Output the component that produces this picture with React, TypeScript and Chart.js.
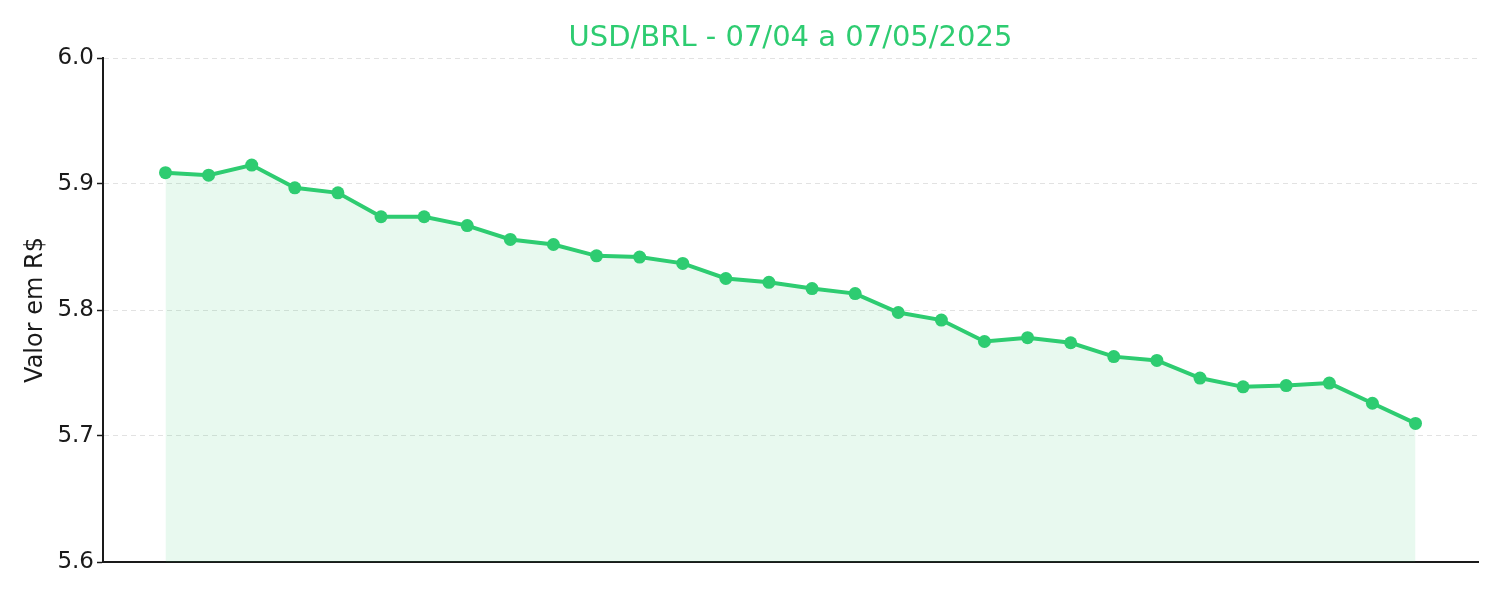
// App.tsx
import React, { useEffect, useRef } from 'react';
import { Chart, registerables } from 'chart.js';

Chart.register(...registerables);

const titulo = 'USD/BRL - 07/04 a 07/05/2025';
const eixoY = 'Valor em R$';

const datas: string[] = [
  '07/04', '08/04', '09/04', '10/04', '11/04', '12/04', '13/04', '14/04', '15/04', '16/04',
  '17/04', '18/04', '19/04', '20/04', '21/04', '22/04', '23/04', '24/04', '25/04', '26/04',
  '27/04', '28/04', '29/04', '30/04', '01/05', '02/05', '03/05', '04/05', '05/05', '06/05',
];

const cotacoes: number[] = [
  5.909, 5.907, 5.915, 5.897, 5.893, 5.874, 5.874, 5.867, 5.856, 5.852,
  5.843, 5.842, 5.837, 5.825, 5.822, 5.817, 5.813, 5.798, 5.792, 5.775,
  5.778, 5.774, 5.763, 5.760, 5.746, 5.739, 5.740, 5.742, 5.726, 5.710,
];

const yTicks: number[] = [5.6, 5.7, 5.8, 5.9, 6.0];

const verde = '#2ecc71';
const fonte = '"DejaVu Sans", sans-serif';

// título centralizado sobre a área do gráfico (como no matplotlib)
const tituloPlugin = {
  id: 'tituloArea',
  afterDraw(chart: Chart) {
    const { ctx, chartArea } = chart;
    ctx.save();
    ctx.font = `29px ${fonte}`;
    ctx.fillStyle = verde;
    ctx.textAlign = 'center';
    ctx.textBaseline = 'middle';
    ctx.fillText(titulo, (chartArea.left + chartArea.right) / 2, 38);
    ctx.restore();
  },
};

const App: React.FC = () => {
  const chartRef = useRef<HTMLCanvasElement | null>(null);

  useEffect(() => {
    document.body.style.margin = '0';
    if (!chartRef.current) return;
    const ctx = chartRef.current.getContext('2d');
    if (!ctx) return;

    const chart = new Chart(ctx, {
      type: 'line',
      data: {
        labels: datas,
        datasets: [{
          label: titulo,
          data: cotacoes.map((v, i) => ({ x: i, y: v })),
          borderColor: verde,
          backgroundColor: 'rgba(46, 204, 113, 0.11)',
          borderWidth: 4,
          pointRadius: 6.5,
          pointBackgroundColor: verde,
          pointBorderWidth: 0,
          fill: 'start',
          tension: 0,
        }],
      },
      options: {
        animation: false,
        responsive: false,
        maintainAspectRatio: false,
        layout: { padding: { top: 58, right: 22, left: 0, bottom: 0 } },
        plugins: {
          legend: { display: false },
          title: { display: false },
          tooltip: { enabled: false },
        },
        scales: {
          x: {
            type: 'linear',
            min: -1.45,
            max: cotacoes.length - 1 + 1.45,
            ticks: { display: false },
            grid: { display: false, drawTicks: false },
            border: { display: true, color: '#1a1a1a', width: 2 },
            afterFit: (scale: any) => { scale.height = 38; },
          },
          y: {
            min: 5.6,
            max: 6.0,
            afterBuildTicks: (scale: any) => {
              scale.ticks = yTicks.map((v) => ({ value: v }));
            },
            ticks: {
              color: '#1a1a1a',
              font: { family: fonte, size: 23 },
              padding: 3,
              callback: (v: any) => Number(v).toFixed(1),
            },
            grid: {
              color: '#e2e2e2',
              lineWidth: 1,
              tickColor: '#1a1a1a',
              tickLength: 6,
              tickWidth: 1.5,
            },
            border: { display: true, color: '#1a1a1a', width: 2, dash: [5, 4] },
            title: {
              display: true,
              text: eixoY,
              color: '#1a1a1a',
              font: { family: fonte, size: 24 },
              padding: { top: 21, bottom: 0 },
            },
            afterFit: (scale: any) => { scale.width = 103; },
          },
        },
      },
      plugins: [tituloPlugin],
    });

    return () => {
      chart.destroy();
    };
  }, []);

  return (
    <div style={{ width: 1500, height: 600 }}>
      <canvas ref={chartRef} width={1500} height={600}></canvas>
    </div>
  );
};

export default App;
